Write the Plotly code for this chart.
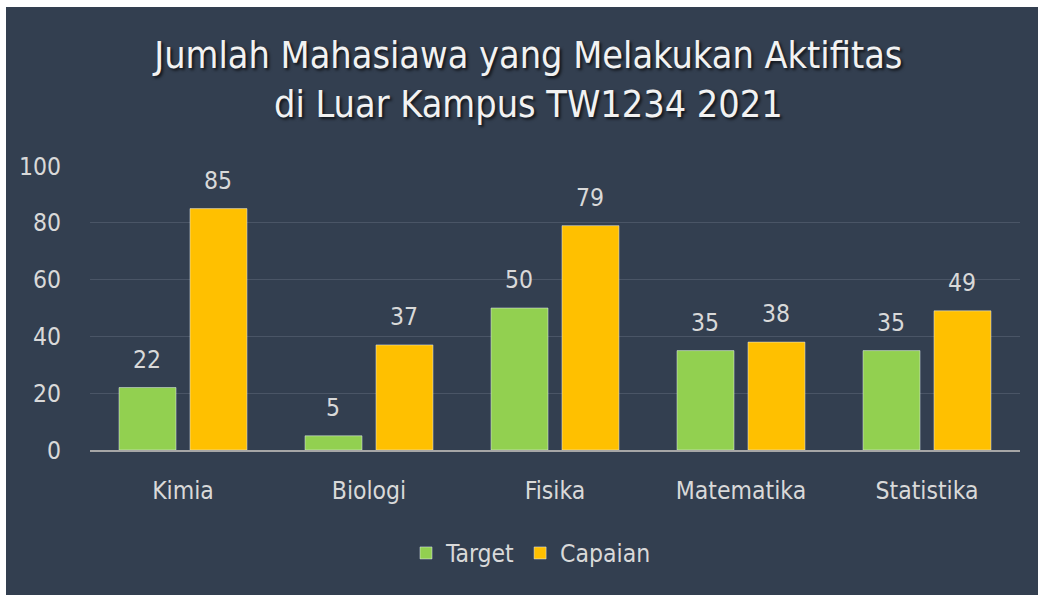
import plotly.graph_objects as go

categories = ["Kimia", "Biologi", "Fisika", "Matematika", "Statistika"]
target = [22, 5, 50, 35, 35]
capaian = [85, 37, 79, 38, 49]
series_names = ["Target", "Capaian"]
y_ticks = [0, 20, 40, 60, 80, 100]
title_text = "Jumlah Mahasiawa yang Melakukan Aktifitas<br>di Luar Kampus TW1234 2021"

FONT = "DejaVu Sans Condensed, sans-serif"
BG = "#333F50"
TXT = "#D9D9D9"
GREEN = "#92D050"
GOLD = "#FFC000"
FS = 24.5

fig = go.Figure()
fig.add_trace(go.Bar(x=categories, y=target, name=series_names[0], marker_color=GREEN))
fig.add_trace(go.Bar(x=categories, y=capaian, name=series_names[1], marker_color=GOLD))

annotations = []
for vals, shift in ((target, -36), (capaian, 35)):
    for c, v in zip(categories, vals):
        annotations.append(dict(x=c, y=v, xref="x", yref="y", text=str(v), showarrow=False,
                                yanchor="bottom", yshift=12, xshift=shift,
                                font=dict(family=FONT, size=FS, color=TXT)))

W, H = 1038, 595
ml, mr, mt, mb = 90, 18, 166, 145
pw, ph = W - ml - mr, H - mt - mb

fig.update_layout(
    width=W, height=H,
    margin=dict(l=ml, r=mr, t=mt, b=mb),
    paper_bgcolor="white",
    plot_bgcolor="rgba(0,0,0,0)",
    barmode="group", bargap=0.237, bargroupgap=0.197,
    title=dict(text=title_text, x=0.509, xanchor="center", y=1 - 68 / H, yanchor="middle",
               xref="container", yref="container",
               font=dict(family=FONT, size=37.5, color="#F2F2F2",
                         shadow="2px 2px 3px rgba(0,0,0,0.7)")),
    font=dict(family=FONT, color=TXT, size=FS),
    showlegend=True,
    legend=dict(orientation="h", x=(531 - ml) / pw, xanchor="center",
                y=(H - mb - 553) / ph, yanchor="middle",
                font=dict(family=FONT, size=FS, color=TXT), bgcolor="rgba(0,0,0,0)",
                itemwidth=30, tracegroupgap=0),
    annotations=annotations,
    shapes=[dict(type="rect", xref="paper", yref="paper", layer="below",
                 x0=(6 - ml) / pw, x1=(W + 10 - ml) / pw,
                 y0=(H - mb - (H + 10)) / ph, y1=(H - mb - 7) / ph,
                 fillcolor=BG, line=dict(width=0))],
)
fig.update_xaxes(showgrid=False, showline=True, linecolor="#A6A6A6", linewidth=2,
                 tickfont=dict(family=FONT, size=FS, color=TXT), ticklabelstandoff=18)
fig.update_yaxes(range=[0, 100], tickvals=y_ticks, showgrid=True, gridcolor="#4A5566",
                 gridwidth=1, zeroline=False, showline=False,
                 tickfont=dict(family=FONT, size=FS, color=TXT), ticklabelstandoff=28)

fig.write_html("out.html", config={"displayModeBar": False},
               post_script="document.body.style.margin='0';document.body.style.overflow='hidden';")
